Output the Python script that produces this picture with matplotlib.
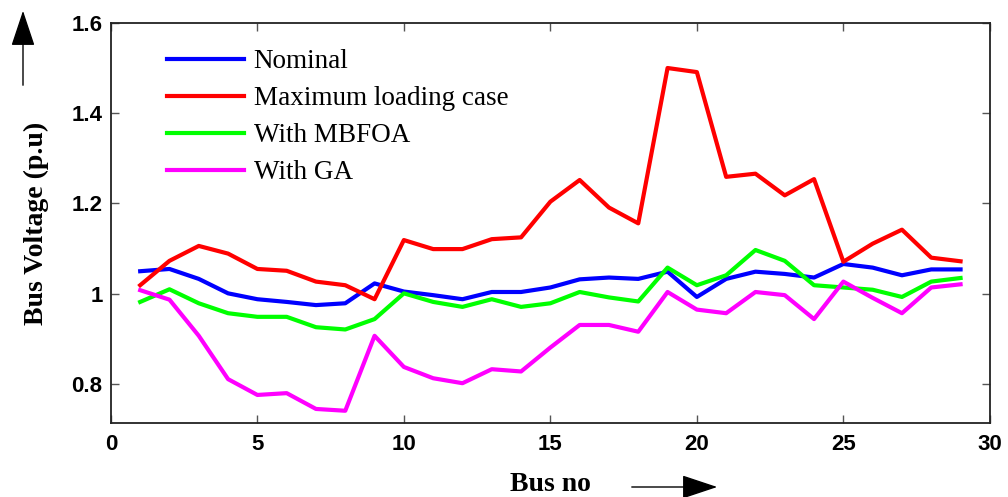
import numpy as np
import matplotlib.pyplot as plt
from matplotlib.patches import FancyArrowPatch

bus = np.arange(1, 30)

nominal = [1.050, 1.055, 1.033, 1.001, 0.988, 0.982, 0.975, 0.979, 1.023, 1.005,
           0.997, 0.988, 1.004, 1.004, 1.014, 1.032, 1.036, 1.033, 1.049, 0.993,
           1.033, 1.049, 1.044, 1.036, 1.066, 1.058, 1.041, 1.054, 1.054]
max_loading = [1.019, 1.073, 1.106, 1.089, 1.055, 1.051, 1.027, 1.019, 0.988, 1.119,
               1.099, 1.099, 1.121, 1.125, 1.204, 1.252, 1.191, 1.156, 1.500, 1.491,
               1.259, 1.266, 1.218, 1.254, 1.071, 1.111, 1.142, 1.080, 1.072]
mbfoa = [0.982, 1.010, 0.979, 0.957, 0.949, 0.949, 0.926, 0.921, 0.944, 1.001,
         0.982, 0.971, 0.988, 0.971, 0.979, 1.004, 0.992, 0.983, 1.058, 1.019,
         1.041, 1.097, 1.073, 1.019, 1.014, 1.009, 0.993, 1.027, 1.035]
ga = [1.008, 0.987, 0.907, 0.811, 0.776, 0.780, 0.745, 0.741, 0.907, 0.838,
      0.813, 0.802, 0.833, 0.828, 0.881, 0.931, 0.931, 0.916, 1.004, 0.965,
      0.957, 1.004, 0.997, 0.944, 1.027, 0.991, 0.957, 1.014, 1.021]

fig = plt.figure(figsize=(10.08, 4.97), dpi=100)
ax = fig.add_axes([0.110, 0.149, 0.872, 0.805])

ax.plot(bus, nominal, color="#0000ff", lw=3, label="Nominal")
ax.plot(bus, max_loading, color="#ff0000", lw=3, label="Maximum loading case")
ax.plot(bus, mbfoa, color="#00ff00", lw=3, label="With MBFOA")
ax.plot(bus, ga, color="#ff00ff", lw=3, label="With GA")

ax.set_xlim(0, 30)
ax.set_ylim(0.714, 1.6)
ax.set_xticks([0, 5, 10, 15, 20, 25, 30])
ax.set_yticks([0.8, 1.0, 1.2, 1.4, 1.6])
ax.set_yticklabels(["0.8", "1", "1.2", "1.4", "1.6"])
ax.tick_params(direction="in", length=6, width=1, color="#555555",
               top=True, right=True, labelsize=16)
ax.tick_params(axis="y", pad=6)
ax.tick_params(axis="x", pad=8)
for lab in ax.get_xticklabels() + ax.get_yticklabels():
    lab.set_fontweight("bold")
    lab.set_family("Liberation Sans")
for s in ax.spines.values():
    s.set_linewidth(1.3)
    s.set_color("#222222")

ax.set_xlabel("Bus no", family="Liberation Serif", fontweight="bold", fontsize=20, labelpad=12)
ax.set_ylabel("Bus Voltage (p.u)", family="Liberation Serif", fontweight="bold", fontsize=20, labelpad=16)

ax.legend(loc="upper left", bbox_to_anchor=(0.036, 0.995), frameon=False,
          prop={"family": "Liberation Serif", "size": 19.5},
          handlelength=2.85, handletextpad=0.35, labelspacing=0.44)

# direction arrows beside the axis labels
for start, end in [((23, 88), (23, 8)), ((629, 487), (720, 487))]:
    fig.patches.append(FancyArrowPatch(
        (start[0] / 1008, 1 - start[1] / 497), (end[0] / 1008, 1 - end[1] / 497),
        transform=fig.transFigure, arrowstyle="-|>,head_length=1.5,head_width=0.5",
        mutation_scale=15, lw=1, color="black"))

fig.savefig("out.png", dpi=100)
